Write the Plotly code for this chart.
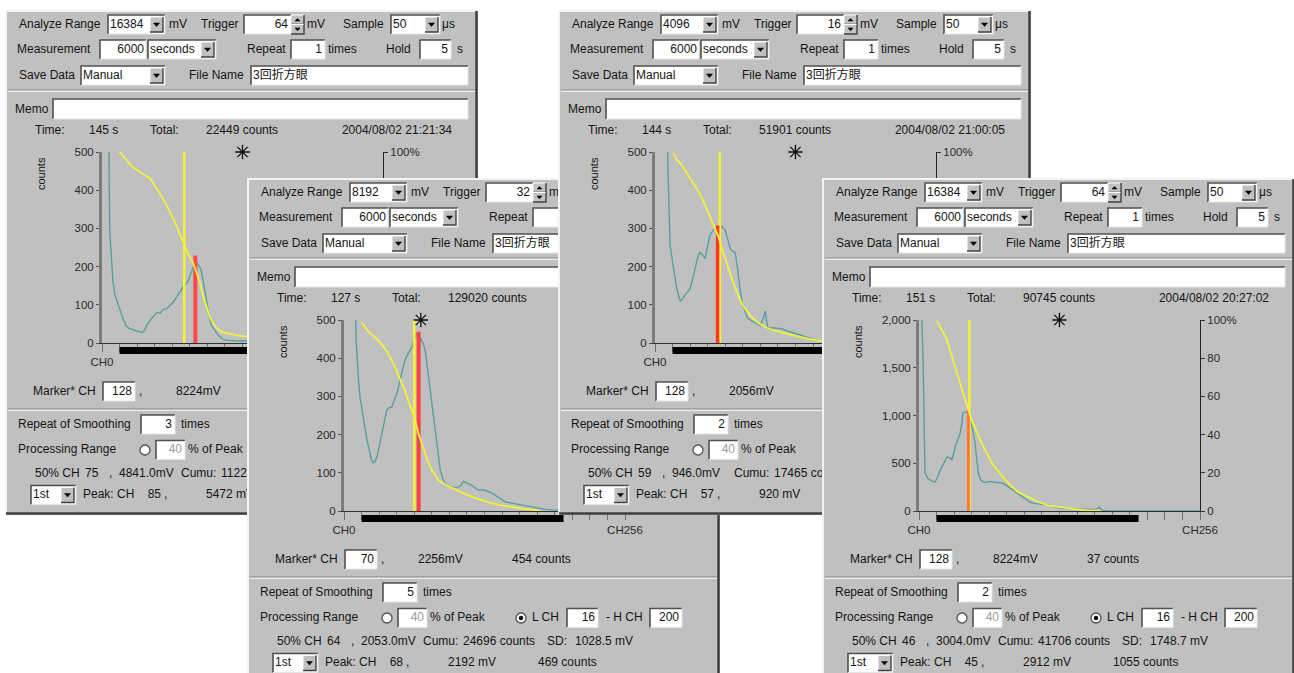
import plotly.graph_objects as go

FIG_W, FIG_H = 1294, 673
WIN_W, WIN_H = 473, 505
GRAY = '#c0c0c0'
TXT = '#151515'
TEAL = '#55a0a0'
YELLOW = '#f2f23c'
FONT = 'Liberation Sans, Arial, Noto Sans CJK JP, sans-serif'

# ---------------- data ----------------
# Panel 1
P1_CH = [5, 6, 7, 8, 9, 10, 12, 14, 16, 19, 22, 25, 28, 31, 34, 37, 39, 41, 44, 47, 50, 53, 56, 59, 62, 65,
         68, 71, 74, 76, 78, 80, 82, 84, 86, 88, 90, 92, 94, 96, 98, 100, 103, 106, 110, 115, 120, 130, 140,
         160, 180, 200, 220, 256]
P1_CNT = [900, 500, 300, 250, 200, 160, 124, 105, 90, 65, 45, 38, 34, 32, 30, 27, 35, 48, 60, 70, 80, 78, 88,
          90, 98, 108, 120, 135, 148, 152, 160, 175, 192, 205, 212, 205, 195, 165, 132, 95, 65, 45, 33, 20, 10,
          7, 6, 5, 4, 3, 2, 1, 0, 0]
P1_CUM_CH = [16, 22, 28, 36, 44, 52, 59, 65, 70, 75, 79, 83, 86, 89, 92, 95, 98, 101, 105, 110, 118, 126,
             140, 160, 180, 200]
P1_CUM_PCT = [100, 96, 92, 89, 86, 79, 72, 65, 58, 51, 46, 42, 37, 32, 25, 19, 14, 10.5, 7.5, 5.5, 4.5, 3.7,
              2.8, 1.8, 0.9, 0]

# Panel 2
P2_CH = [9.5, 11, 13, 14.6, 17, 19, 21, 23.6, 25, 26.5, 28, 30, 32, 34.7, 37, 39, 41, 43.6, 46, 49, 52, 55.6,
         58, 62, 64, 66.5, 69, 72, 74, 76, 78.6, 81, 83, 85.5, 87.7, 90, 92, 96, 101, 106, 109, 112, 116, 122,
         128, 135, 141, 147, 154, 162, 168, 174, 182, 190, 200, 215, 230, 256]
P2_CNT = [700, 450, 350, 298, 255, 220, 185, 152, 135, 126, 128, 141, 170, 204, 240, 264, 270, 272, 292, 316,
          355, 395, 410, 430, 450, 466, 455, 440, 420, 375, 324, 270, 220, 160, 107, 85, 73, 66, 60, 65, 78,
          73, 68, 55, 55, 47, 36, 24, 20, 16, 12, 8, 5, 3, 2, 1, 0, 0]
P2_CUM_CH = [16, 22, 27, 31, 36, 40, 45, 49, 52, 55.6, 59, 63, 65.5, 67.6, 71, 74, 77, 80, 83, 86, 92, 98.7,
             108, 117, 126, 135, 144, 153, 163, 174, 180]
P2_CUM_PCT = [99, 94, 91.5, 89.5, 86, 82.7, 77, 72, 68, 63, 57, 51, 46, 41, 35, 30, 25, 21.5, 18.5, 16, 14,
              12, 9.5, 7.3, 5.5, 4, 3, 2, 1.2, 0.5, 0]

# Panel 3
P3_CH = [10.5, 11.5, 13.7, 16, 18, 20, 23, 25, 27, 30, 32, 34.5, 36.6, 39, 41, 43, 45.7, 48, 50, 53, 55, 57,
         59, 61, 64, 66, 68.5, 71, 73, 75, 77, 79.5, 82, 84, 87, 91, 94, 96, 98, 100.5, 101.5, 103, 108, 112,
         116, 122, 128, 134, 140, 146, 152, 165, 180, 200, 220, 256]
P3_CNT = [700, 490, 255, 210, 176, 140, 110, 115, 124, 135, 142, 170, 195, 225, 237, 232, 221, 250, 282, 295,
          300, 302, 303, 305, 295, 270, 247, 240, 237, 200, 150, 105, 80, 66, 60, 53, 48, 45, 60, 84, 60, 39,
          40, 38, 37, 30, 24, 18, 13, 8, 5, 3, 2, 1, 0, 0]
P3_CUM_CH = [16.5, 20, 24.5, 30, 36.6, 41, 45.7, 50, 53, 57.6, 61, 64, 67, 71, 75, 78, 82, 88, 94, 102, 110,
             119, 128, 140, 152, 165, 180]
P3_CUM_PCT = [99.5, 96, 93, 88, 82.6, 78, 72, 66, 61.6, 56, 49.5, 44, 39, 32, 26, 22, 18, 13.5, 10.5, 8, 6.3,
              4.8, 3.7, 2.2, 1, 0.5, 0]

# Panel 4
P4_CH = [2, 2.7, 3.7, 4.5, 5.5, 8, 10, 12.5, 14.6, 17, 19, 21, 23, 25.6, 28, 30, 33, 35, 37.5, 39, 40, 42, 44,
         46, 48.4, 51, 52.5, 54, 56, 58.5, 62, 65, 67.6, 71, 75.8, 80, 83, 87, 92, 96, 101, 105, 110, 117, 123,
         129, 135, 141, 147, 153, 158, 162, 164, 165.5, 167, 172, 180, 256]
P4_CNT = [2100, 1980, 1580, 900, 400, 340, 325, 310, 304, 356, 420, 461, 500, 566, 560, 534, 670, 740, 817,
          920, 1026, 1035, 1037, 960, 880, 712, 560, 398, 330, 304, 300, 310, 304, 300, 293, 265, 240, 205,
          168, 130, 94, 80, 72, 63, 45, 31, 25, 22, 21, 18, 15, 20, 42, 20, 5, 2, 0, 0]
P4_CUM_CH = [16.5, 21, 25.6, 28, 31, 34, 37.5, 41, 44, 46.6, 50, 53, 57, 62, 66, 71, 77, 83, 90, 99, 108, 117,
             126, 135, 144, 152, 160, 166]
P4_CUM_PCT = [99.5, 94.5, 89.5, 84.5, 79, 73, 67, 60.5, 54.5, 50, 45, 41, 35.5, 30, 25.5, 21.5, 17.3, 13.6, 10,
              7.3, 5, 3, 2.2, 1.5, 0.9, 0.5, 0.2, 0]

SPEC_CH = [P1_CH, P2_CH, P3_CH, P4_CH]
SPEC_CNT = [P1_CNT, P2_CNT, P3_CNT, P4_CNT]
CUM_CH = [P1_CUM_CH, P2_CUM_CH, P3_CUM_CH, P4_CUM_CH]
CUM_PCT = [P1_CUM_PCT, P2_CUM_PCT, P3_CUM_PCT, P4_CUM_PCT]

Y_MAX = [500, 500, 500, 2000]
Y_TICKS = [[0, 100, 200, 300, 400, 500]] * 3 + [[0, 500, 1000, 1500, 2000]]
Y_TICK_TEXT = [['0', '100', '200', '300', '400', '500']] * 3 + [['0', '500', '1,000', '1,500', '2,000']]
# percent axis: only the ticks that are not hidden under a later window
PCT_TICKS = [[100], [], [100], [0, 20, 40, 60, 80, 100]]
PCT_TICK_TEXT = [['100%'], [], ['100%'], ['0', '20', '40', '60', '80', '100%']]
X_TICKS = [0, 16, 32, 48, 64, 80, 96, 112, 128, 144, 160, 176, 192, 208, 224, 240, 256]
X_TICK_TEXT = ['CH0', '', '', '', '', '', '', '', '', '', '', '', '', '', '', '', 'CH256']

MARKER_CH = [128, 70, 128, 128]
HALF_CH = [75, 64, 59, 46]
PEAK_CH = [85, 68, 57, 45]
PEAK_CNT = [229, 469, 308, 1055]
RANGE_L = [16, 16, 16, 16]
RANGE_H = [200, 200, 200, 200]
PEAK_COLOR = ['#ff4848', '#ff4040', '#ff3a20', '#ff7a30']
PEAK_WIDTH = [4, 4, 3.5, 3]

# UI texts
ANALYZE_RANGE = ['16384', '8192', '4096', '16384']
TRIGGER = ['64', '32', '16', '64']
SAMPLE = ['50', '50', '50', '50']
MEAS = ['6000', '6000', '6000', '6000']
REPEAT = ['1', '1', '1', '1']
HOLD = ['5', '5', '5', '5']
FILE_NAME = ['3回折方眼', '3回折方眼', '3回折方眼', '3回折方眼']
TIME_S = ['145 s', '127 s', '144 s', '151 s']
TOTAL = ['22449 counts', '129020 counts', '51901 counts', '90745 counts']
DATE = ['2004/08/02 21:21:34', '2004/08/02 20:48:11', '2004/08/02 21:00:05', '2004/08/02 20:27:02']
MARKER_MV = ['8224mV', '2256mV', '2056mV', '8224mV']
MARKER_CNT = ['5 counts', '454 counts', '24 counts', '37 counts']
SMOOTH = ['3', '5', '2', '2']
HALF_MV = ['4841.0mV', '2053.0mV', '946.0mV', '3004.0mV']
CUMU = ['11224 counts', '24696 counts', '17465 counts', '41706 counts']
SD = ['1502.6 mV', '1028.5 mV', '410.2 mV', '1748.7 mV']
PEAK_MV = ['5472 mV', '2192 mV', '920 mV', '2912 mV']

PANEL_ORIGINS = [(5, 10), (247, 178), (558, 10), (822, 178)]

# chart box inside a window (px, relative to window)
PLOT_L, PLOT_R, PLOT_T, PLOT_B = 97, 378, 142, 333
STRIP_T, STRIP_B = 337, 344
FS = 12


def aname(letter, n):
    return f'{letter}axis' if n == 1 else f'{letter}axis{n}'


def aref(letter, n):
    return letter if n == 1 else f'{letter}{n}'


def hidden(k, x0, x1, y):
    """True when a text span (absolute px) lies fully under a later window."""
    for j in range(k + 1, 4):
        ox, oy = PANEL_ORIGINS[j]
        if ox <= x0 and x1 <= ox + WIN_W and oy <= y - 5 and y + 5 <= oy + WIN_H:
            return True
    return False


fig = go.Figure()
shapes = []
annotations = []
layout_axes = {}

for k in range(4):
    ox, oy = PANEL_ORIGINS[k]
    nb, nc, npct, nst = 4 * k + 1, 4 * k + 2, 4 * k + 3, 4 * k + 4
    bx, by = aref('x', nb), aref('y', nb)
    cx, cy = aref('x', nc), aref('y', nc)
    py, sy = aref('y', npct), aref('y', nst)

    wv = min(ox + WIN_W, FIG_W) - ox
    bottom = min(oy + WIN_H, FIG_H)
    hv = bottom - oy

    layout_axes[aname('x', nb)] = dict(domain=[ox / FIG_W, (ox + wv) / FIG_W], range=[0, wv], visible=False,
                                      anchor=by, fixedrange=True, automargin=False)
    layout_axes[aname('y', nb)] = dict(domain=[1 - bottom / FIG_H, 1 - oy / FIG_H], range=[hv, 0], visible=False,
                                      anchor=bx, fixedrange=True, automargin=False)

    # ---------- window drawing helpers ----------
    def rect(x0, y0, x1, y1, fill, lc=None, lw=0):
        shapes.append(dict(type='rect', xref=bx, yref=by, x0=x0, y0=y0, x1=x1, y1=y1, fillcolor=fill,
                           line=dict(color=lc or fill, width=lw), layer='below'))

    def path(p, color, width, fill=None):
        d = dict(type='path', xref=bx, yref=by, path=p, line=dict(color=color, width=width), layer='below')
        if fill:
            d['fillcolor'] = fill
        shapes.append(d)

    def field(x0, y0, x1, y1):
        rect(x0, y0, x1, y1, 'white')
        path(f'M{x0},{y1} L{x0},{y0} L{x1},{y0}', '#505050', 1.6)
        path(f'M{x0},{y1} L{x1},{y1} L{x1},{y0}', '#e6e6e6', 1)

    def button(x0, y0, x1, y1):
        rect(x0, y0, x1, y1, GRAY)
        path(f'M{x0},{y1} L{x0},{y0} L{x1},{y0}', '#ffffff', 1)
        path(f'M{x0},{y1} L{x1},{y1} L{x1},{y0}', '#404040', 1.4)

    def tri_down(cxp, cyp, s=3):
        path(f'M{cxp - s},{cyp - s / 2} L{cxp + s},{cyp - s / 2} L{cxp},{cyp + s / 2 + 0.5} Z', '#000', 0.5, '#000')

    def tri_up(cxp, cyp, s=2.5):
        path(f'M{cxp - s},{cyp + s / 2} L{cxp + s},{cyp + s / 2} L{cxp},{cyp - s / 2} Z', '#000', 0.5, '#000')

    texts = []

    def T(x, y, t, align='L', color=TXT):
        w = len(t) * 6.4
        x0, x1 = (x, x + w) if align == 'L' else (x - w, x)
        if hidden(k, ox + x0, ox + x1, oy + y):
            return
        texts.append((x, y, t, align, color))

    def dropdown(x0, y0, x1, y1, val):
        field(x0, y0, x1, y1)
        button(x1 - 15, y0 + 2, x1 - 2, y1 - 2)
        tri_down(x1 - 8.5, (y0 + y1) / 2)
        T(x0 + 2, (y0 + y1) / 2, val)

    def radio(xc, yc, on):
        shapes.append(dict(type='circle', xref=bx, yref=by, x0=xc - 5, y0=yc - 5, x1=xc + 5, y1=yc + 5,
                           fillcolor='white', line=dict(color='#505050', width=1.3), layer='below'))
        if on:
            shapes.append(dict(type='circle', xref=bx, yref=by, x0=xc - 2, y0=yc - 2, x1=xc + 2, y1=yc + 2,
                               fillcolor='#000', line=dict(color='#000', width=0.5), layer='below'))

    def separator(y):
        path(f'M3,{y} L{WIN_W - 3},{y}', '#808080', 1)
        path(f'M3,{y + 1.2} L{WIN_W - 3},{y + 1.2}', '#ffffff', 1)

    # window body + 3D border
    rect(0, 0, WIN_W, WIN_H, GRAY)
    path(f'M1,{WIN_H} L1,1 L{WIN_W},1', '#f4f4f4', 2)
    path(f'M1,{WIN_H - 1.5} L{WIN_W - 1.5},{WIN_H - 1.5} L{WIN_W - 1.5},1', '#404040', 2.5)

    # row 1
    r1 = 14.5
    T(14, r1, 'Analyze Range')
    dropdown(103, 5, 160, 24, ANALYZE_RANGE[k])
    T(164, r1, 'mV')
    T(196, r1, 'Trigger')
    field(239, 5, 286, 24)
    T(283, r1, TRIGGER[k], 'R')
    button(286, 5, 299, 14.5)
    button(286, 14.5, 299, 24)
    tri_up(292.5, 9.8)
    tri_down(292.5, 19.2, 2.5)
    T(302, r1, 'mV')
    T(338, r1, 'Sample')
    dropdown(386, 5, 435, 24, SAMPLE[k])
    T(437, r1, 'μs')

    # row 2
    r2 = 40
    T(12, r2, 'Measurement')
    field(95, 30, 141, 49)
    T(139, r2, MEAS[k], 'R')
    dropdown(143, 30, 211, 49, 'seconds')
    T(242, r2, 'Repeat')
    field(286, 30, 320, 49)
    T(317, r2, REPEAT[k], 'R')
    T(323, r2, 'times')
    T(381, r2, 'Hold')
    field(415, 30, 446, 49)
    T(443, r2, HOLD[k], 'R')
    T(452, r2, 's')

    # row 3
    r3 = 65.5
    T(14, r3, 'Save Data')
    dropdown(76, 56, 160, 75, 'Manual')
    T(184, r3, 'File Name')
    field(246, 56, 463, 75)
    T(248, r3, FILE_NAME[k])
    separator(80)

    # memo + status
    T(10, 99.5, 'Memo')
    field(48, 89, 463, 109)
    rt = 121
    T(30, rt, 'Time:')
    T(84, rt, TIME_S[k])
    T(145, rt, 'Total:')
    T(201, rt, TOTAL[k])
    T(447, rt, DATE[k], 'R')

    # marker row
    rm = 381.5
    T(28, rm, 'Marker* CH')
    field(98, 372, 130, 391)
    T(127, rm, str(MARKER_CH[k]), 'R')
    T(134, rm, ',')
    T(171, rm, MARKER_MV[k])
    T(265, rm, MARKER_CNT[k])
    separator(399)

    # lower section
    rs = 414.5
    T(13, rs, 'Repeat of Smoothing')
    field(136, 405, 170, 424)
    T(167, rs, SMOOTH[k], 'R')
    T(176, rs, 'times')
    rp = 440
    T(13, rp, 'Processing Range')
    radio(140, rp, False)
    field(151, 430.5, 180, 449.5)
    T(177, rp, '40', 'R', '#9a9a9a')
    T(183, rp, '% of Peak')
    radio(274, rp, True)
    T(285, rp, 'L CH')
    field(320, 430.5, 351, 449.5)
    T(348, rp, str(RANGE_L[k]), 'R')
    T(359, rp, '- H CH')
    field(403, 430.5, 435, 449.5)
    T(432, rp, str(RANGE_H[k]), 'R')
    rh = 464
    T(30, rh, '50% CH')
    T(80, rh, str(HALF_CH[k]))
    T(104, rh, ',')
    T(114, rh, HALF_MV[k])
    T(176, rh, 'Cumu:')
    T(216, rh, CUMU[k])
    T(300, rh, 'SD:')
    T(328, rh, SD[k])
    rk = 485
    dropdown(26, 475.5, 71, 494.5, '1st')
    T(78, rk, 'Peak: CH')
    T(156, rk, str(PEAK_CH[k]), 'R')
    T(159, rk, ',')
    T(201, rk, PEAK_MV[k])
    T(291, rk, str(PEAK_CNT[k]) + ' counts')

    for align, pos in (('L', 'middle right'), ('R', 'middle left')):
        sel = [t for t in texts if t[3] == align]
        if not sel:
            continue
        fig.add_trace(go.Scatter(
            x=[t[0] for t in sel], y=[t[1] for t in sel], text=[t[2] for t in sel],
            mode='text', textposition=pos, xaxis=bx, yaxis=by, hoverinfo='skip',
            textfont=dict(family=FONT, size=FS, color=[t[4] for t in sel])))

    # "counts" axis title (rotated)
    annotations.append(dict(x=36, y=164, xref=bx, yref=by, text='counts', textangle=-90, showarrow=False,
                            font=dict(family=FONT, size=11, color=TXT)))

    # ---------- chart axes ----------
    xdom = [(ox + PLOT_L) / FIG_W, (ox + PLOT_R) / FIG_W]
    ydom = [1 - (oy + PLOT_B) / FIG_H, 1 - (oy + PLOT_T) / FIG_H]
    sdom = [1 - (oy + STRIP_B) / FIG_H, 1 - (oy + STRIP_T) / FIG_H]
    tickfont = dict(family=FONT, size=11.5, color='#2a2a2a')
    layout_axes[aname('x', nc)] = dict(domain=xdom, range=[0, 256], anchor=cy, showline=True, linecolor='#303030',
                                      linewidth=1.3, ticks='outside', ticklen=8, tickcolor='#707070',
                                      tickvals=X_TICKS, ticktext=X_TICK_TEXT, tickfont=tickfont,
                                      showgrid=False, zeroline=False, fixedrange=True, automargin=False)
    layout_axes[aname('y', nc)] = dict(domain=ydom, range=[0, Y_MAX[k]], anchor=cx, showline=True,
                                      linecolor='#7c7c7c', linewidth=3, ticks='outside', ticklen=3,
                                      tickcolor='#555555', tickvals=Y_TICKS[k], ticktext=Y_TICK_TEXT[k],
                                      tickfont=tickfont, showgrid=False, zeroline=False, fixedrange=True,
                                      automargin=False)
    layout_axes[aname('y', npct)] = dict(overlaying=cy, side='right', anchor=cx, range=[0, 100], showline=True,
                                        linecolor='#222222', linewidth=1, ticks='outside', ticklen=4,
                                        tickcolor='#333333', tickvals=PCT_TICKS[k], ticktext=PCT_TICK_TEXT[k],
                                        tickfont=tickfont, showgrid=False, zeroline=False, fixedrange=True,
                                        automargin=False)
    layout_axes[aname('y', nst)] = dict(domain=sdom, range=[0, 1], anchor=cx, visible=False, fixedrange=True,
                                       automargin=False)

    # ---------- chart traces ----------
    fig.add_trace(go.Scatter(x=SPEC_CH[k], y=SPEC_CNT[k], xaxis=cx, yaxis=cy, mode='lines',
                             line=dict(color=TEAL, width=1.4), hoverinfo='skip'))
    fig.add_trace(go.Scatter(x=[HALF_CH[k], HALF_CH[k]], y=[0, Y_MAX[k]], xaxis=cx, yaxis=cy, mode='lines',
                             line=dict(color=YELLOW, width=2.6), hoverinfo='skip'))
    fig.add_trace(go.Scatter(x=[PEAK_CH[k], PEAK_CH[k]], y=[0, PEAK_CNT[k]], xaxis=cx, yaxis=cy, mode='lines',
                             line=dict(color=PEAK_COLOR[k], width=PEAK_WIDTH[k]), hoverinfo='skip'))
    fig.add_trace(go.Scatter(x=[MARKER_CH[k]], y=[Y_MAX[k]], xaxis=cx, yaxis=cy, mode='markers',
                             cliponaxis=False, hoverinfo='skip',
                             marker=dict(symbol='asterisk-open', size=12, color='#111',
                                         line=dict(color='#111', width=1.3))))
    fig.add_trace(go.Scatter(x=CUM_CH[k], y=CUM_PCT[k], xaxis=cx, yaxis=py, mode='lines',
                             line=dict(color=YELLOW, width=1.8), hoverinfo='skip'))
    fig.add_trace(go.Scatter(x=[RANGE_L[k], RANGE_H[k]], y=[0.5, 0.5], xaxis=cx, yaxis=sy, mode='lines',
                             line=dict(color='#000000', width=7), hoverinfo='skip'))

fig.update_layout(
    width=FIG_W, height=FIG_H, autosize=False,
    margin=dict(l=0, r=0, t=0, b=0, pad=0, autoexpand=False),
    paper_bgcolor='white', plot_bgcolor='rgba(0,0,0,0)', showlegend=False,
    shapes=shapes, annotations=annotations, **layout_axes)

fig.write_html('out.html', config={'displayModeBar': False, 'staticPlot': True},
               post_script="document.body.style.margin='0px';document.body.style.padding='0px';"
                           "document.documentElement.style.overflow='hidden';")
